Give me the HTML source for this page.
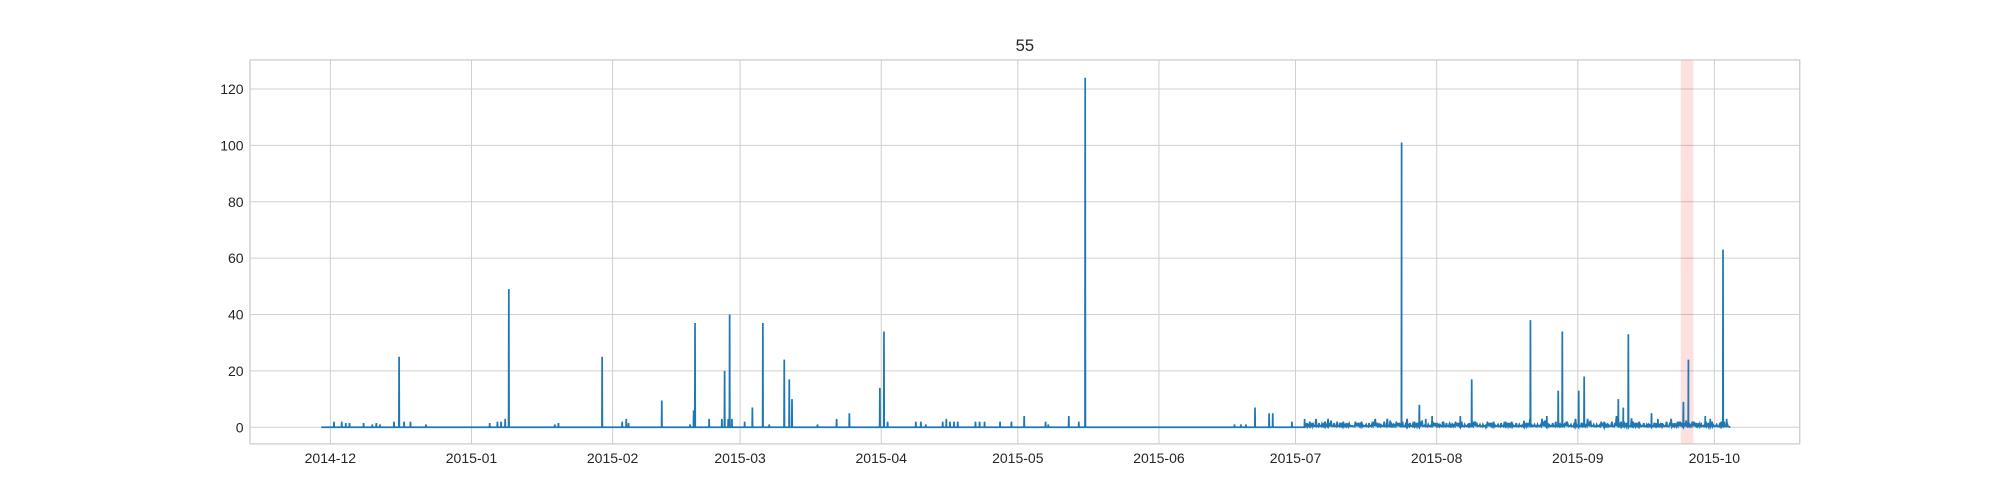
<!DOCTYPE html>
<html><head><meta charset="utf-8"><style>
html,body{margin:0;padding:0;background:#fff;}
svg{display:block;}
text{font-family:"Liberation Sans",sans-serif;fill:#262626;}
</style></head><body>
<svg id="chart" width="2000" height="500" viewBox="0 0 1568 392" xmlns="http://www.w3.org/2000/svg">
<rect width="1568" height="392" fill="#fff"/>
<text x="803.5" y="40" font-size="13" text-anchor="middle">55</text>
<g id="grid"></g>
<rect id="band" fill="#ff0000" fill-opacity="0.12"/>
<g id="series"></g>
<rect x="196" y="47" width="1215" height="301" fill="none" stroke="#cccccc" stroke-width="1"/>
<g id="ticks"></g>
</svg>
<script>
// days since 2014-12-01
const xTickLabels = ["2014-12","2015-01","2015-02","2015-03","2015-04","2015-05","2015-06","2015-07","2015-08","2015-09","2015-10"];
const xTickDays = [0,31,62,90,121,151,182,212,243,274,304];
const yTicks = [0,20,40,60,80,100,120];
const spikeDays = [0.8,2.5,3.4,4.2,7.3,9.2,10.1,10.9,14,15.1,16.2,17.6,21,35,36.7,37.5,38.4,39.2,49.3,50.1,59.7,64.1,65,65.5,72.8,79,79.8,80.1,83.2,86,86.6,87.4,87.7,88.2,91,92.7,95,96.4,99.7,100.8,101.4,107,111.2,114,120.7,121.6,122.4,128.6,129.7,130.8,134.5,135.3,136.1,137,137.8,141.7,142.6,143.7,147.1,149.6,152.4,157.1,157.7,162.2,164.4,165.8,198.6,200,201.1,203.1,206.2,207,211.2,214,235.3,239.2,240.6,242,244.3,248.2,250.7,253.8,262.2,263.6,267.2,269.7,270.6,274.2,275.4,279.8,282.9,284,285.1,290.2,291.6,295,297.2,298.3,302,303.1,305.9,306.7];
const spikeVals = [2,2,1.5,1.5,1.5,1,1.5,1,2,25,2,2,1,1.5,2,2,3,49,1,1.5,25,2,3,1.5,9.5,1,6,37,3,3,20,3,40,3,2,7,37,1,24,17,10,1,3,5,14,34,2,2,2,1,2,3,2,2,2,2,2,2,2,2,4,2,1,4,2,124,1,1,1,7,5,5,2,3,101,8,3,4,2,4,17,1,2,38,4,13,34,13,18,2,10,7,33,5,3,1,9,24,4,3,63,3];
const denseStart = 214;
const denseVals = [1,2,0.5,1.5,1,3,0.5,2,1,1.5,0.5,2,1,0.5,1.5,2,1,0.5,3,1,2,0.5,1,1.5,2,3,0.5,1,2,1,0.5,1.5,1,2,0.5,1,1.5,2,0.5,1,2,1,0.5,1.5,2,1,0.5,1,2,1.5,0.5,1,3,1,0.5,2,1,1.5,0.5,1,2,1,3,0.5,1,2,1,0.5,1.5,1,2,4,2,1,0.5,1,2,1.5,1,0.5,1,1.5,2,3,1,2,1.5,1,2,1,0.5,1,2];
const bandRange = [296.6,299.4];
const dataRange = [-2,307.5];

const X = d => 259 + d*3.5693;
const Y = v => 335 - v*2.2104;
const NS="http://www.w3.org/2000/svg";
const grid=document.getElementById('grid'), ticks=document.getElementById('ticks'), series=document.getElementById('series');
function mk(tag,attrs,parent){const e=document.createElementNS(NS,tag);for(const k in attrs)e.setAttribute(k,attrs[k]);parent.appendChild(e);return e;}
xTickDays.forEach((d,i)=>{
  const l=mk('line',{x1:X(d),x2:X(d),y1:47,y2:348,stroke:'#d0d0d0','stroke-width':0.8},grid);
  
  
  const t=mk('text',{x:X(d),y:363,'font-size':11,'text-anchor':'middle'},ticks);
  t.textContent=xTickLabels[i];
  
  
});
yTicks.forEach(v=>{
  const l=mk('line',{x1:196,x2:1411,y1:Y(v),y2:Y(v),stroke:'#d0d0d0','stroke-width':0.8},grid);
  
  
  const t=mk('text',{x:191,y:Y(v)+4,'font-size':11,'text-anchor':'end'},ticks);
  t.textContent=v;
  
  
});
const band=document.getElementById('band');
band.setAttribute('x',X(bandRange[0]));band.setAttribute('width',X(bandRange[1])-X(bandRange[0]));
band.setAttribute('y',47);band.setAttribute('height',301);
let pts=[[dataRange[0],0]];
spikeDays.forEach((d,i)=>{pts.push([d-0.05,0],[d,spikeVals[i]],[d+0.05,0]);});
denseVals.forEach((v,i)=>{
  const d=denseStart+i;
  const w=denseVals[(i+3)%denseVals.length];
  pts.push([d,0.3],[d+0.15,v],[d+0.3,0.4],[d+0.5,w],[d+0.65,0.3],[d+0.8,v*0.8],[d+0.95,0.4]);
});
pts.push([dataRange[1],0]);
pts.sort((a,b)=>a[0]-b[0]);
const p=mk('polyline',{points:pts.map(q=>X(q[0]).toFixed(2)+','+Y(q[1]).toFixed(2)).join(' '),fill:'none',stroke:'#1f77b4','stroke-width':1.35,'stroke-linejoin':'miter'},series);


</script>
</body></html>
